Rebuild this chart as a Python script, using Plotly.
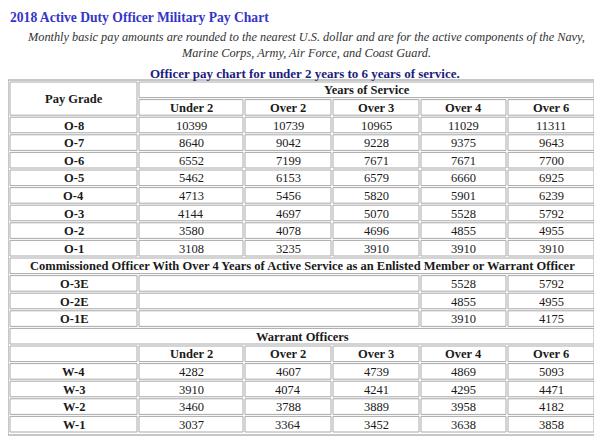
import plotly.graph_objects as go

# pay table data
year_cols = ['Under 2', 'Over 2', 'Over 3', 'Over 4', 'Over 6']
officer_grades = ['O-8', 'O-7', 'O-6', 'O-5', 'O-4', 'O-3', 'O-2', 'O-1']
officer_pay = [
    [10399, 10739, 10965, 11029, 11311],
    [8640, 9042, 9228, 9375, 9643],
    [6552, 7199, 7671, 7671, 7700],
    [5462, 6153, 6579, 6660, 6925],
    [4713, 5456, 5820, 5901, 6239],
    [4144, 4697, 5070, 5528, 5792],
    [3580, 4078, 4696, 4855, 4955],
    [3108, 3235, 3910, 3910, 3910],
]
enlisted_grades = ['O-3E', 'O-2E', 'O-1E']
enlisted_pay = [[5528, 5792], [4855, 4955], [3910, 4175]]
warrant_grades = ['W-4', 'W-3', 'W-2', 'W-1']
warrant_pay = [
    [4282, 4607, 4739, 4869, 5093],
    [3910, 4074, 4241, 4295, 4471],
    [3460, 3788, 3889, 3958, 4182],
    [3037, 3364, 3452, 3638, 3858],
]

title = '2018 Active Duty Officer Military Pay Chart'
subtitle = ('Monthly basic pay amounts are rounded to the nearest U.S. dollar and are for the active components of the Navy,'
            '<br>Marine Corps, Army, Air Force, and Coast Guard.')
caption = 'Officer pay chart for under 2 years to 6 years of service.'
enlisted_header = 'Commissioned Officer With Over 4 Years of Active Service as an Enlisted Member or Warrant Officer'

# table geometry (pixels of the page)
col_left = [10, 139, 245, 333, 421, 508]
col_right = [137, 243, 331, 419, 506, 594]
row_top0 = 82
row_step = 17.6
row_h = 15.6
FONT = 'Liberation Serif'
PAGE_OFFSET = 8  # default body margin of the html page

fig = go.Figure()
shapes = []
annotations = []


def cell(r0, r1, c0, c1, text='', bold=False):
    x0, x1 = col_left[c0], col_right[c1]
    y0 = row_top0 + r0 * row_step
    y1 = row_top0 + r1 * row_step + row_h
    shapes.append(dict(type='rect', xref='x', yref='y', x0=x0, x1=x1, y0=y0, y1=y1,
                       line=dict(color='#a9a9a9', width=1), fillcolor='white', layer='below'))
    if text != '':
        t = '<b>%s</b>' % text if bold else str(text)
        annotations.append(dict(x=(x0 + x1) / 2, y=(y0 + y1) / 2 + 0.5, xref='x', yref='y',
                                text=t, showarrow=False, xanchor='center', yanchor='middle',
                                font=dict(family=FONT, size=12.5, color='#1a1a1a')))


# outer table border
shapes.append(dict(type='rect', xref='x', yref='y', x0=8, x1=596, y0=80, y1=435,
                   line=dict(color='#b5b5b5', width=1.5), fillcolor='white', layer='below'))

# header
cell(0, 1, 0, 0, 'Pay Grade', True)
cell(0, 0, 1, 5, 'Years of Service', True)
for j, c in enumerate(year_cols):
    cell(1, 1, j + 1, j + 1, c, True)

# officers
r = 2
for g, vals in zip(officer_grades, officer_pay):
    cell(r, r, 0, 0, g, True)
    for j, v in enumerate(vals):
        cell(r, r, j + 1, j + 1, v)
    r += 1

cell(r, r, 0, 5, enlisted_header, True)
r += 1
for g, vals in zip(enlisted_grades, enlisted_pay):
    cell(r, r, 0, 0, g, True)
    cell(r, r, 1, 3)
    for j, v in enumerate(vals):
        cell(r, r, j + 4, j + 4, v)
    r += 1

cell(r, r, 0, 5, 'Warrant Officers', True)
r += 1
cell(r, r, 0, 0)
for j, c in enumerate(year_cols):
    cell(r, r, j + 1, j + 1, c, True)
r += 1
for g, vals in zip(warrant_grades, warrant_pay):
    cell(r, r, 0, 0, g, True)
    for j, v in enumerate(vals):
        cell(r, r, j + 1, j + 1, v)
    r += 1

# titles
annotations.append(dict(x=8, y=8, xref='x', yref='y', text='<b>%s</b>' % title, showarrow=False,
                        xanchor='left', yanchor='top',
                        font=dict(family=FONT, size=13.6, color='#3535c8')))
annotations.append(dict(x=306, y=44.5, xref='x', yref='y', text='<i>%s</i>' % subtitle, showarrow=False,
                        xanchor='center', yanchor='middle', align='center',
                        font=dict(family=FONT, size=12.3, color='#333333')))
annotations.append(dict(x=305, y=73, xref='x', yref='y', text='<b>%s</b>' % caption, showarrow=False,
                        xanchor='center', yanchor='middle',
                        font=dict(family=FONT, size=13, color='#1c1c80')))

fig.update_layout(
    width=602 - PAGE_OFFSET, height=439 - PAGE_OFFSET,
    margin=dict(l=0, r=0, t=0, b=0),
    paper_bgcolor='white', plot_bgcolor='white',
    xaxis=dict(range=[PAGE_OFFSET, 602], visible=False, fixedrange=True),
    yaxis=dict(range=[439, PAGE_OFFSET], visible=False, fixedrange=True),
    shapes=shapes, annotations=annotations,
    showlegend=False,
)

fig.write_html('out.html')
